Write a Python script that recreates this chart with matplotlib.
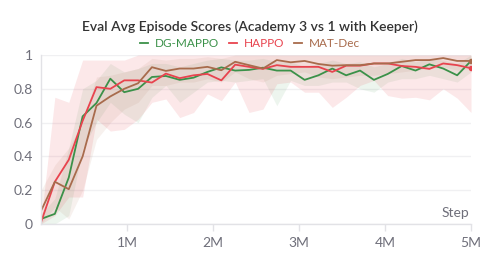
import matplotlib
matplotlib.use('Agg')
from matplotlib import pyplot as plt
from matplotlib.ticker import FuncFormatter

# eval steps in millions
steps = [0, 0.161, 0.323, 0.484, 0.645, 0.806, 0.968, 1.129, 1.290, 1.452, 1.613,
         1.774, 1.935, 2.097, 2.258, 2.419, 2.581, 2.742, 2.903, 3.065, 3.226, 3.387,
         3.548, 3.710, 3.871, 4.032, 4.194, 4.355, 4.516, 4.677, 4.839, 5.0]

dg_mappo = [0.03, 0.06, 0.275, 0.637, 0.716, 0.86, 0.78, 0.80, 0.87, 0.876, 0.853,
            0.866, 0.90, 0.927, 0.908, 0.912, 0.925, 0.908, 0.908, 0.853, 0.88, 0.92,
            0.88, 0.908, 0.853, 0.888, 0.935, 0.908, 0.945, 0.92, 0.88, 0.965]
dg_lo = [0.0, 0.0, 0.05, 0.45, 0.6, 0.72, 0.65, 0.6, 0.75, 0.82, 0.72, 0.78, 0.84,
         0.85, 0.84, 0.85, 0.86, 0.70, 0.85, 0.82, 0.82, 0.84, 0.84, 0.80, 0.78, 0.84,
         0.86, 0.86, 0.88, 0.86, 0.84, 0.90]
dg_hi = [0.06, 0.15, 0.45, 0.80, 0.85, 0.95, 0.9, 0.92, 0.95, 0.95, 0.93, 0.95, 0.97,
         0.98, 0.97, 0.97, 0.98, 0.96, 0.96, 0.93, 0.95, 0.97, 0.95, 0.96, 0.93, 0.95,
         0.98, 0.96, 0.98, 0.97, 0.95, 1.0]

happo = [0.01, 0.25, 0.38, 0.61, 0.81, 0.80, 0.85, 0.85, 0.837, 0.89, 0.863, 0.88,
         0.888, 0.85, 0.943, 0.93, 0.918, 0.94, 0.93, 0.93, 0.93, 0.90, 0.937, 0.937,
         0.95, 0.95, 0.935, 0.93, 0.918, 0.95, 0.94, 0.922]
happo_lo = [0.0, 0.05, 0.16, 0.16, 0.62, 0.55, 0.56, 0.62, 0.72, 0.74, 0.63, 0.66,
            0.77, 0.73, 0.84, 0.66, 0.68, 0.83, 0.84, 0.78, 0.78, 0.69, 0.75, 0.82,
            0.85, 0.76, 0.745, 0.75, 0.735, 0.80, 0.745, 0.66]
happo_hi = [0.02, 0.75, 0.72, 0.97, 0.97, 0.97, 0.97, 1.0, 1.0, 1.0, 1.0, 1.0, 1.0,
            1.0, 1.0, 1.0, 1.0, 1.0, 1.0, 1.0, 1.0, 1.0, 1.0, 1.0, 1.0, 1.0, 1.0, 1.0,
            1.0, 1.0, 1.0, 1.0]

mat_dec = [0.078, 0.25, 0.206, 0.40, 0.70, 0.755, 0.80, 0.833, 0.928, 0.906, 0.92,
           0.92, 0.93, 0.91, 0.96, 0.94, 0.92, 0.97, 0.957, 0.965, 0.947, 0.937, 0.94,
           0.94, 0.95, 0.95, 0.96, 0.97, 0.97, 0.982, 0.965, 0.965]
mat_lo = [0.0, 0.1, 0.03, 0.2, 0.5, 0.6, 0.68, 0.72, 0.82, 0.82, 0.84, 0.84, 0.86,
          0.84, 0.9, 0.86, 0.84, 0.88, 0.89, 0.9, 0.87, 0.86, 0.87, 0.88, 0.88, 0.89,
          0.9, 0.91, 0.92, 0.93, 0.91, 0.92]
mat_hi = [0.2, 0.35, 0.45, 0.6, 0.87, 0.88, 0.9, 0.92, 0.98, 0.97, 0.98, 0.98, 0.99,
          0.98, 1.0, 1.0, 1.0, 1.0, 1.0, 1.0, 1.0, 1.0, 1.0, 1.0, 1.0, 1.0, 1.0, 1.0,
          1.0, 1.0, 1.0, 1.0]

series = [
    ("DG-MAPPO", dg_mappo, dg_lo, dg_hi, "#3b9149", 0.09, False),
    ("HAPPO", happo, happo_lo, happo_hi, "#e8434e", 0.12, True),
    ("MAT-Dec", mat_dec, mat_lo, mat_hi, "#a86b4c", 0.09, True),
]

plt.rcParams['font.family'] = ['Lato', 'DejaVu Sans']
tick_col = "#6f6f7a"

fig = plt.figure(figsize=(5, 2.62), dpi=100)
ax = fig.add_axes([0.082, 0.145, 0.860, 0.645])

for name, vals, lo, hi, col, a, dot in series:
    ax.fill_between(steps, lo, hi, color=col, alpha=a, lw=0)
for name, vals, lo, hi, col, a, dot in series:
    ax.plot(steps, vals, color=col, lw=1.3, label=name)
    if dot:
        ax.plot(steps[-1], vals[-1], 'o', color=col, ms=3)

ax.set_xlim(0, 5)
ax.set_ylim(0, 1)
ax.set_xticks([1, 2, 3, 4, 5])
ax.xaxis.set_major_formatter(FuncFormatter(lambda v, p: f"{int(v)}M"))
ax.set_yticks([0, 0.2, 0.4, 0.6, 0.8, 1])
ax.yaxis.set_major_formatter(FuncFormatter(lambda v, p: "0" if v == 0 else ("1" if v == 1 else f"{v:.1f}")))
ax.grid(True, axis='y', color="#f0f0f2", lw=1)
ax.set_axisbelow(True)
for s in ['top', 'right']:
    ax.spines[s].set_visible(False)
for s in ['left', 'bottom']:
    ax.spines[s].set_color("#e2e2e6")
    ax.spines[s].set_linewidth(1)
ax.tick_params(axis='x', colors=tick_col, labelsize=10, length=5, width=1, color="#e2e2e6", pad=4)
ax.tick_params(axis='y', colors=tick_col, labelsize=10, length=0, pad=6)
ax.text(0.995, 0.03, "Step", transform=ax.transAxes, ha='right', va='bottom', color=tick_col, fontsize=10)

fig.text(0.5, 0.9, "Eval Avg Episode Scores (Academy 3 vs 1 with Keeper)", ha='center', va='center',
         fontsize=10, fontweight='semibold', color="#333333")
leg = fig.legend(loc='center', bbox_to_anchor=(0.5, 0.835), ncol=3, frameon=False, fontsize=8.5,
                 handlelength=0.7, handletextpad=0.6, columnspacing=0.8)
for t, (name, vals, lo, hi, col, a, dot) in zip(leg.get_texts(), series):
    t.set_color(col)

fig.savefig("out.png", dpi=100)
plt.close(fig)
